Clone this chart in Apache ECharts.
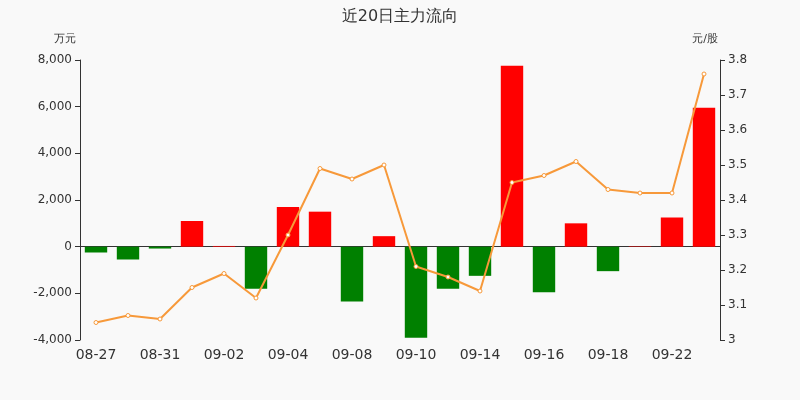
<!DOCTYPE html>
<html><head><meta charset="utf-8">
<script src="https://cdn.jsdelivr.net/npm/echarts@6/dist/echarts.min.js"></script>
<style>html,body{margin:0;background:#f9f9f9}#c{width:800px;height:400px}</style>
</head><body><div id="c"></div>
<script>
var categories=['08-27','08-28','08-31','09-01','09-02','09-03','09-04','09-07','09-08','09-09','09-10','09-11','09-14','09-15','09-16','09-17','09-18','09-21','09-22','09-23'];
var flow=[-250,-550,-80,1100,30,-1800,1700,1500,-2350,450,-3900,-1800,-1250,7750,-1950,1000,-1050,20,1250,5950];
var price=[3.05,3.07,3.06,3.15,3.19,3.12,3.30,3.49,3.46,3.50,3.21,3.18,3.14,3.45,3.47,3.51,3.43,3.42,3.42,3.76];
var font='DejaVu Sans';
var chart=echarts.init(document.getElementById('c'));
chart.setOption({
backgroundColor:'#f9f9f9',
textStyle:{fontFamily:font},
title:{text:'近20日主力流向',left:'center',top:4,textStyle:{fontSize:16,fontWeight:'normal',color:'#333',fontFamily:font}},
grid:{left:80,right:80,top:60,bottom:60},
xAxis:{type:'category',data:categories,axisTick:{show:false},axisLine:{lineStyle:{color:'#333'}},
 axisLabel:{interval:1,fontSize:14,color:'#333',margin:8}},
yAxis:[
 {type:'value',name:'万元',min:-4000,max:8000,interval:2000,nameTextStyle:{color:'#333',fontSize:11,padding:[0,0,0,-30]},
  splitLine:{show:false},axisLine:{show:true,lineStyle:{color:'#333'}},axisTick:{show:true},
  axisLabel:{color:'#333',fontSize:12,formatter:function(v){return v.toLocaleString('en-US');}}},
 {type:'value',name:'元/股',min:3,max:3.8,interval:0.1,nameTextStyle:{color:'#333',fontSize:11,padding:[0,30,0,0]},
  splitLine:{show:false},axisLine:{show:true,lineStyle:{color:'#333'}},axisTick:{show:true},
  axisLabel:{color:'#333',fontSize:12,formatter:function(v){return +v.toFixed(1)+'';}}}
],
series:[
 {type:'bar',data:flow,barWidth:'70%',itemStyle:{color:function(p){return p.value>=0?'#ff0000':'#008000';}}},
 {type:'line',yAxisIndex:1,data:price,symbol:'circle',symbolSize:4,
  lineStyle:{color:'#f7993a',width:2},itemStyle:{color:'#fff',borderColor:'#f7993a',borderWidth:1}}
]
});
</script></body></html>
